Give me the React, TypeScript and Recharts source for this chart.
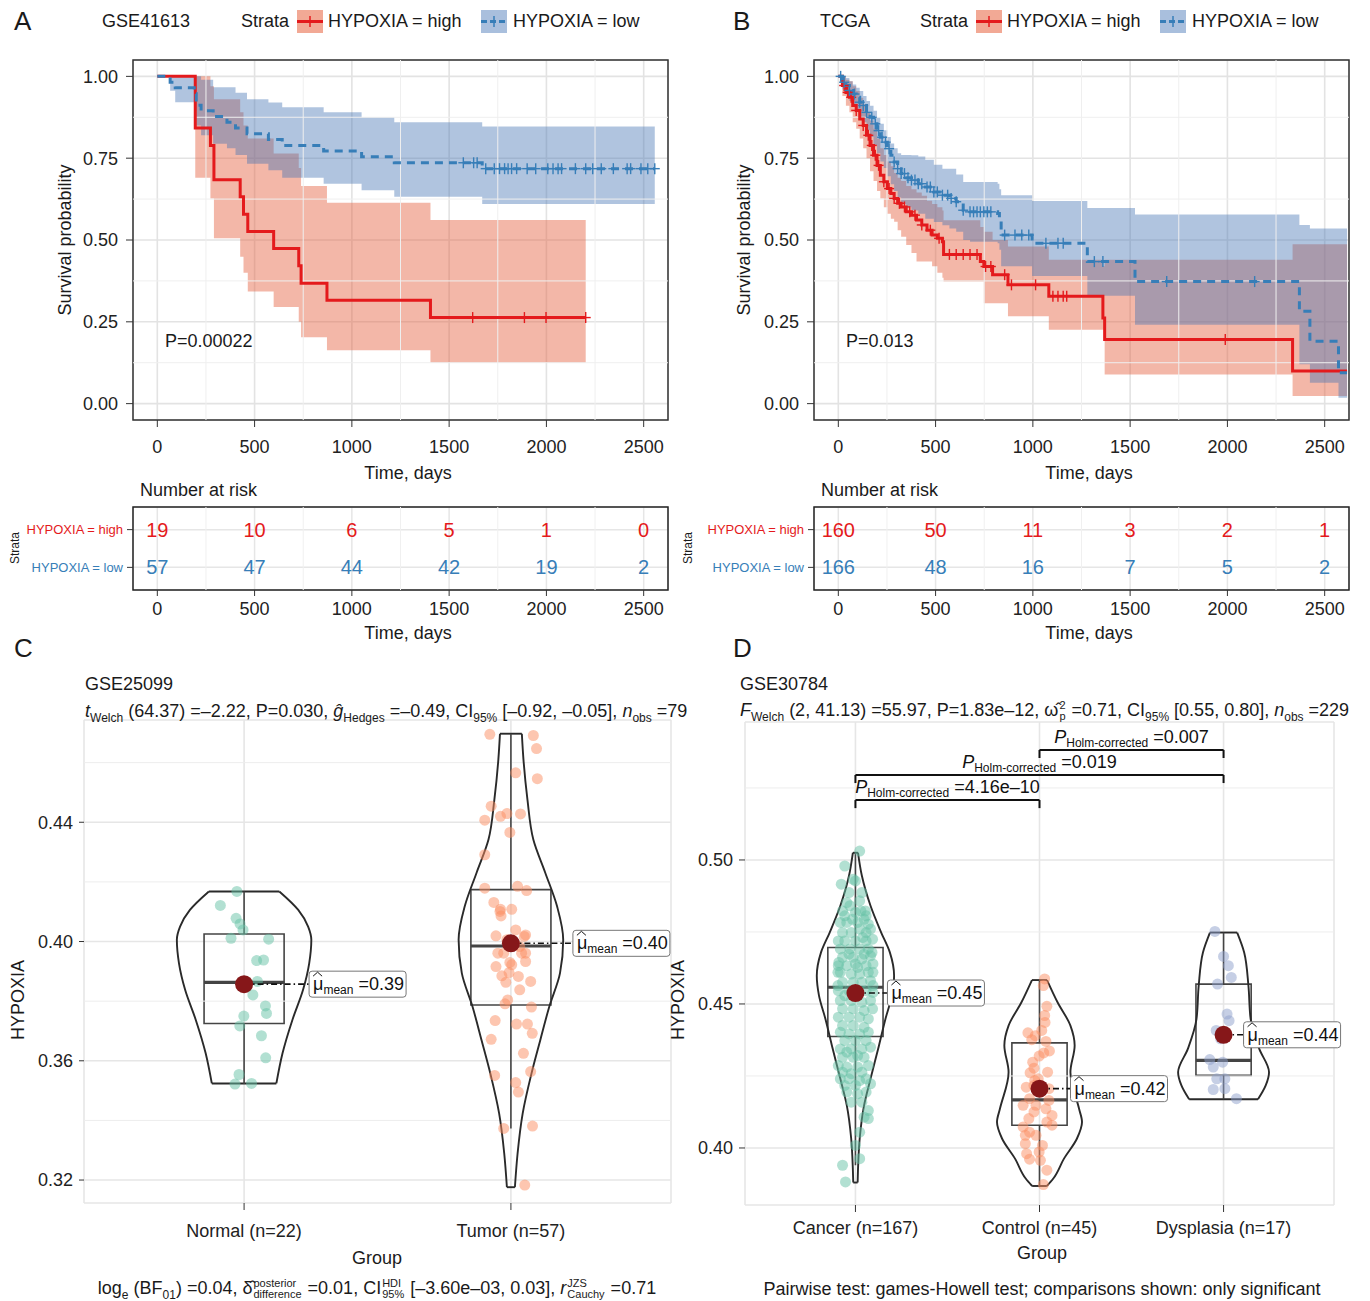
import React from 'react';
import {
  ComposedChart, Line, Area, Scatter, XAxis, YAxis, CartesianGrid,
  ReferenceLine, ReferenceArea, ReferenceDot,
} from 'recharts';

const FONT = '"Liberation Sans", Arial, Helvetica, sans-serif';
const RED = '#E41A1C';
const BLUE = '#377EB8';
const INK = '#1a1a1a';

// ---------- Kaplan-Meier, GSE41613 ----------
const gseHighTime = [0, 195, 273, 291, 426, 443, 465, 598, 727, 739, 872, 1404, 2202];
const gseHighSurv = [1, 0.842, 0.789, 0.684, 0.632, 0.579, 0.526, 0.474, 0.421, 0.368, 0.316, 0.263, 0.263];
const gseHighLower = [1, 0.69, 0.627, 0.505, 0.449, 0.4, 0.343, 0.295, 0.25, 0.203, 0.163, 0.125, 0.125];
const gseHighUpper = [1, 1, 0.97, 0.93, 0.89, 0.85, 0.81, 0.764, 0.72, 0.665, 0.614, 0.561, 0.561];
const gseHighCensor = [1621, 1887, 1998, 2202];

const gseLowTime = [0, 66, 92, 190, 200, 225, 287, 358, 402, 461, 571, 642, 855, 1050, 1218, 1670, 2557];
const gseLowSurv = [1, 0.982, 0.965, 0.947, 0.912, 0.895, 0.877, 0.86, 0.842, 0.825, 0.807, 0.789, 0.772, 0.754, 0.736, 0.718, 0.718];
const gseLowLower = [1, 0.956, 0.921, 0.895, 0.85, 0.82, 0.794, 0.78, 0.76, 0.733, 0.713, 0.69, 0.672, 0.652, 0.632, 0.61, 0.61];
const gseLowUpper = [1, 1, 1, 1, 1, 0.99, 0.967, 0.967, 0.95, 0.93, 0.92, 0.906, 0.89, 0.875, 0.86, 0.847, 0.847];
const gseLowCensor = [1573, 1626, 1644, 1688, 1732, 1759, 1785, 1803, 1821, 1847, 1901, 1945, 2007, 2034, 2060, 2078, 2149, 2202, 2238, 2282, 2344, 2415, 2433, 2486, 2521, 2557];

// ---------- Kaplan-Meier, TCGA ----------
const tcgaHighTime = [0, 21, 39, 57, 74, 92, 110, 128, 145, 163, 181, 199, 216, 234, 252, 270, 287, 305, 323, 349, 376, 402, 429, 456, 482, 509, 535, 541, 730, 748, 793, 872, 1082, 1360, 1369, 2335, 2615];
const tcgaHighSurv = [1, 0.972, 0.951, 0.936, 0.911, 0.896, 0.87, 0.85, 0.82, 0.789, 0.759, 0.728, 0.698, 0.678, 0.657, 0.642, 0.627, 0.612, 0.601, 0.586, 0.576, 0.561, 0.546, 0.53, 0.515, 0.505, 0.495, 0.456, 0.434, 0.419, 0.394, 0.363, 0.328, 0.262, 0.196, 0.1, 0.1];
const tcgaHighLower = [1, 0.94, 0.91, 0.89, 0.86, 0.84, 0.81, 0.78, 0.75, 0.71, 0.68, 0.65, 0.627, 0.6, 0.58, 0.565, 0.556, 0.53, 0.51, 0.485, 0.46, 0.434, 0.434, 0.434, 0.42, 0.4, 0.385, 0.373, 0.373, 0.307, 0.307, 0.267, 0.226, 0.226, 0.089, 0.023, 0.023];
const tcgaHighUpper = [1, 1, 0.99, 0.985, 0.97, 0.955, 0.935, 0.915, 0.89, 0.865, 0.84, 0.81, 0.78, 0.76, 0.74, 0.725, 0.705, 0.69, 0.68, 0.665, 0.655, 0.645, 0.635, 0.62, 0.61, 0.6, 0.59, 0.56, 0.54, 0.525, 0.5, 0.48, 0.44, 0.42, 0.44, 0.487, 0.487];
const tcgaHighCensor = [30, 48, 66, 92, 128, 154, 172, 190, 207, 234, 261, 287, 314, 340, 367, 394, 429, 473, 518, 571, 606, 642, 677, 713, 757, 784, 855, 890, 1014, 1103, 1129, 1156, 1174, 1989];

const tcgaLowTime = [0, 21, 39, 57, 74, 92, 110, 128, 145, 163, 181, 199, 216, 234, 252, 270, 287, 305, 323, 349, 376, 411, 447, 491, 535, 571, 606, 642, 677, 819, 828, 837, 996, 1280, 1525, 2370, 2424, 2571, 2615];
const tcgaLowSurv = [1, 0.982, 0.972, 0.957, 0.946, 0.936, 0.921, 0.911, 0.89, 0.875, 0.855, 0.834, 0.814, 0.799, 0.779, 0.759, 0.738, 0.718, 0.703, 0.69, 0.683, 0.672, 0.662, 0.647, 0.637, 0.627, 0.617, 0.591, 0.586, 0.581, 0.566, 0.515, 0.49, 0.434, 0.373, 0.282, 0.191, 0.094, 0.094];
const tcgaLowLower = [1, 0.96, 0.945, 0.925, 0.91, 0.895, 0.875, 0.86, 0.835, 0.815, 0.79, 0.765, 0.74, 0.72, 0.695, 0.67, 0.65, 0.63, 0.61, 0.6, 0.59, 0.58, 0.565, 0.555, 0.545, 0.535, 0.525, 0.5, 0.495, 0.49, 0.47, 0.42, 0.39, 0.33, 0.241, 0.12, 0.064, 0.018, 0.018];
const tcgaLowUpper = [1, 1, 0.995, 0.985, 0.975, 0.965, 0.955, 0.94, 0.925, 0.91, 0.895, 0.875, 0.855, 0.835, 0.815, 0.795, 0.78, 0.765, 0.76, 0.76, 0.759, 0.755, 0.745, 0.73, 0.718, 0.718, 0.7, 0.677, 0.677, 0.672, 0.655, 0.637, 0.619, 0.598, 0.578, 0.546, 0.535, 0.535, 0.535];
const tcgaLowCensor = [12, 30, 57, 83, 110, 128, 145, 172, 190, 207, 225, 243, 261, 287, 305, 323, 340, 358, 376, 394, 411, 429, 456, 473, 491, 509, 535, 562, 580, 606, 642, 677, 695, 713, 730, 748, 766, 784, 855, 908, 943, 979, 1067, 1129, 1156, 1316, 1360, 1688, 2140];

// ---------- number at risk ----------
const riskTimes = [0, 500, 1000, 1500, 2000, 2500];
const gseRiskHigh = [19, 10, 6, 5, 1, 0];
const gseRiskLow = [57, 47, 44, 42, 19, 2];
const tcgaRiskHigh = [160, 50, 11, 3, 2, 1];
const tcgaRiskLow = [166, 48, 16, 7, 5, 2];
const riskLabels = ['HYPOXIA = high', 'HYPOXIA = low'];

const kmTicks = [0, 500, 1000, 1500, 2000, 2500];
const kmMinorX = [250, 750, 1250, 1750, 2250];
const survTicks = [0, 0.25, 0.5, 0.75, 1];
const survMinor = [0.125, 0.375, 0.625, 0.875];

// ---------- GSE25099 violins ----------
const gseGroups = ['Normal (n=22)', 'Tumor (n=57)'];
const normalHypoxia = [0.4168, 0.4121, 0.4078, 0.4059, 0.4039, 0.4011, 0.4008, 0.3936, 0.3938, 0.3866, 0.3821, 0.3784, 0.3759, 0.375, 0.3717, 0.3684, 0.361, 0.3554, 0.3522, 0.3524, 0.3849, 0.386];
const normalJitter = [-0.027, -0.089, -0.03, -0.015, -0.004, -0.049, 0.092, 0.047, 0.073, 0.05, 0.033, 0.08, 0.084, -0.001, -0.016, 0.065, 0.081, -0.019, -0.034, 0.028, 0.01, -0.012];
const tumorHypoxia = [0.4695, 0.4691, 0.4647, 0.4566, 0.4546, 0.4454, 0.4407, 0.442, 0.4429, 0.4428, 0.4366, 0.4291, 0.4179, 0.4185, 0.4171, 0.4131, 0.4108, 0.4108, 0.4101, 0.4086, 0.4019, 0.4006, 0.4022, 0.4017, 0.3983, 0.3961, 0.3961, 0.3961, 0.393, 0.3922, 0.3933, 0.3896, 0.3885, 0.3883, 0.3866, 0.3863, 0.3838, 0.3791, 0.378, 0.3735, 0.3723, 0.3723, 0.3692, 0.3672, 0.3564, 0.3551, 0.3527, 0.3495, 0.3381, 0.3373, 0.3183, 0.3994, 0.3961, 0.4039, 0.3916, 0.3804, 0.3625];
const tumorJitter = [-0.079, 0.084, 0.096, 0.018, 0.099, -0.074, -0.098, -0.039, -0.015, 0.036, -0.004, -0.098, -0.098, 0.025, 0.059, -0.064, -0.039, 0.003, -0.041, -0.037, -0.056, -0.015, 0.055, 0.05, 0.033, 0.055, -0.049, 0.04, -0.004, 0.003, 0.055, -0.007, -0.034, 0.028, 0.074, -0.019, 0.033, -0.022, 0.077, -0.059, 0.021, 0.062, 0.08, -0.074, 0.074, -0.061, 0.018, 0.028, 0.081, -0.027, 0.052, 0.01, -0.027, 0.018, -0.056, -0.012, 0.047];
const normalViolinY = [0.3524, 0.3625, 0.3737, 0.3838, 0.3927, 0.4006, 0.405, 0.4106, 0.4168];
const normalViolinHalf = [0.121, 0.144, 0.181, 0.221, 0.244, 0.252, 0.24, 0.203, 0.132];
const tumorViolinY = [0.3176, 0.3289, 0.3423, 0.3557, 0.3669, 0.3782, 0.3894, 0.4006, 0.4118, 0.423, 0.4342, 0.4476, 0.4611, 0.4697];
const tumorViolinHalf = [0.015, 0.025, 0.044, 0.077, 0.11, 0.144, 0.184, 0.196, 0.173, 0.129, 0.084, 0.062, 0.047, 0.041];
// [lower whisker, Q1, median, Q3, upper whisker]
const normalBox = [0.3522, 0.3725, 0.3863, 0.4025, 0.4168];
const tumorBox = [0.3373, 0.3787, 0.3985, 0.4174, 0.4697];
const gseMeans = [0.3857, 0.3994];

// ---------- GSE30784 violins ----------
const tissueGroups = ['Cancer (n=167)', 'Control (n=45)', 'Dysplasia (n=17)'];
const cancerHypoxia = [0.5031, 0.4979, 0.4916, 0.4927, 0.4887, 0.4852, 0.4841, 0.4823, 0.4818, 0.4823, 0.4823, 0.4806, 0.4783, 0.4783, 0.4783, 0.4794, 0.4777, 0.4748, 0.4748, 0.476, 0.4748, 0.476, 0.4719, 0.4719, 0.4719, 0.4691, 0.4691, 0.4691, 0.4691, 0.4662, 0.4662, 0.4656, 0.4667, 0.4633, 0.4633, 0.4627, 0.4633, 0.4639, 0.461, 0.4604, 0.4604, 0.461, 0.4575, 0.4575, 0.4575, 0.4581, 0.4546, 0.4546, 0.4546, 0.454, 0.4512, 0.4512, 0.4506, 0.4512, 0.4483, 0.4483, 0.4477, 0.4483, 0.4454, 0.4454, 0.4454, 0.4448, 0.4425, 0.4425, 0.4419, 0.4402, 0.4396, 0.4396, 0.4402, 0.4373, 0.4373, 0.4373, 0.4344, 0.4344, 0.4344, 0.435, 0.4315, 0.4315, 0.4315, 0.4286, 0.4281, 0.4281, 0.4286, 0.4263, 0.4258, 0.4263, 0.424, 0.424, 0.4234, 0.424, 0.4217, 0.4217, 0.4223, 0.4194, 0.4188, 0.4194, 0.4159, 0.4159, 0.413, 0.4107, 0.4102, 0.4055, 0.4009, 0.3963, 0.394, 0.3882, 0.4933, 0.4887, 0.4858, 0.4794, 0.4806, 0.4731, 0.4673, 0.4639, 0.4673, 0.4529, 0.4529, 0.4564, 0.461, 0.461, 0.4564, 0.4644, 0.4679, 0.4719, 0.4725, 0.4321, 0.4333];
const cancerJitter = [0.023, -0.058, -0.077, 0, 0.035, -0.047, -0.03, -0.07, 0, 0.03, 0.054, 0.058, -0.082, -0.047, 0.012, 0.047, 0.07, -0.07, -0.023, 0.023, 0.058, 0.082, -0.058, 0, 0.058, -0.082, -0.03, 0.023, 0.07, -0.07, -0.012, 0.035, 0.082, -0.093, -0.047, 0.012, 0.058, 0.095, -0.082, -0.023, 0.023, 0.07, -0.07, -0.012, 0.035, 0.082, -0.093, -0.035, 0.058, 0.095, -0.082, -0.023, 0.035, 0.082, -0.07, -0.012, 0.047, 0.093, -0.093, -0.035, 0.023, 0.07, -0.07, -0.012, 0.047, -0.082, -0.035, 0.023, 0.07, -0.058, 0, 0.058, -0.082, -0.023, 0.035, 0.082, -0.07, -0.012, 0.047, -0.093, -0.047, 0.012, 0.07, -0.07, -0.023, 0.035, -0.082, -0.035, 0.023, 0.058, -0.058, 0, 0.082, -0.047, 0.012, 0.058, -0.023, 0.035, 0.07, 0.047, 0.07, 0.023, 0, 0.023, -0.07, -0.054, -0.012, -0.035, 0.023, -0.016, -0.058, 0.04, -0.035, 0, 0.047, -0.058, 0.012, 0.095, 0.095, -0.095, -0.095, -0.09, 0.09, -0.093, 0.093, 0.012, -0.047];
const controlHypoxia = [0.4587, 0.4564, 0.4492, 0.446, 0.4436, 0.4408, 0.44, 0.4376, 0.439, 0.437, 0.4337, 0.433, 0.4319, 0.4298, 0.4277, 0.4261, 0.424, 0.4263, 0.4234, 0.4211, 0.4206, 0.4171, 0.4165, 0.4148, 0.4136, 0.4125, 0.4113, 0.4102, 0.409, 0.4073, 0.4055, 0.4079, 0.4044, 0.4015, 0.4009, 0.398, 0.3961, 0.3957, 0.3923, 0.3873, 0.4217, 0.4194, 0.4148, 0.4044, 0.3986];
const controlJitter = [0.028, 0.021, 0.04, 0.028, 0.03, 0.012, -0.063, -0.042, -0.023, 0.035, 0.054, 0.023, -0.002, -0.037, -0.03, -0.051, -0.007, 0.044, -0.026, -0.072, 0.051, -0.054, 0.051, -0.089, 0.035, -0.03, 0.068, -0.058, 0.04, -0.089, -0.054, 0.068, -0.019, -0.077, 0.016, -0.07, -0.054, 0.005, 0.04, 0.021, -0.03, 0.005, -0.019, -0.077, -0.002];
const dysplasiaHypoxia = [0.4752, 0.4665, 0.4633, 0.4592, 0.4569, 0.4465, 0.4442, 0.4408, 0.4307, 0.4298, 0.4281, 0.424, 0.424, 0.4203, 0.4206, 0.4171, 0.4379];
const dysplasiaJitter = [-0.047, 0, 0.026, 0.042, -0.033, 0.019, 0.03, -0.04, -0.075, -0.005, -0.056, -0.037, 0.007, -0.056, 0.007, 0.07, -0.016];
const cancerViolinY = [0.388, 0.4032, 0.4148, 0.424, 0.4356, 0.4448, 0.4529, 0.4598, 0.4679, 0.4748, 0.4841, 0.4945, 0.5025];
const cancerViolinHalf = [0.012, 0.023, 0.047, 0.082, 0.128, 0.163, 0.198, 0.21, 0.187, 0.14, 0.082, 0.035, 0.014];
const controlViolinY = [0.3868, 0.3894, 0.3963, 0.4032, 0.409, 0.4136, 0.4263, 0.4356, 0.4425, 0.4506, 0.4583];
const controlViolinHalf = [0.04, 0.075, 0.133, 0.203, 0.231, 0.215, 0.168, 0.191, 0.168, 0.098, 0.041];
const dysplasiaViolinY = [0.4169, 0.4217, 0.4263, 0.4344, 0.4448, 0.4564, 0.4679, 0.4748];
const dysplasiaViolinHalf = [0.187, 0.229, 0.247, 0.194, 0.147, 0.135, 0.112, 0.074];
const cancerBox = [0.394, 0.4387, 0.4558, 0.4696, 0.5025];
const controlBox = [0.3868, 0.4079, 0.4167, 0.4365, 0.4583];
const dysplasiaBox = [0.4169, 0.4252, 0.4304, 0.4569, 0.4748];
const tissueMeans = [0.4538, 0.4206, 0.4393];

// pairwise Games-Howell brackets
const bracketPairs = [[1, 2], [1, 3], [2, 3]];
const bracketP = ['4.16e–10', '0.019', '0.007'];
const bracketLevels = [0.5208, 0.5295, 0.5382];

// ---------- helpers ----------
type Curve = { time: number[]; surv: number[]; lower: number[]; upper: number[] };

const kmRows = (c: Curve) => c.time.map((t, i) => ({ t, s: c.surv[i], ci: [c.lower[i], c.upper[i]] }));
const censorRows = (c: Curve, times: number[]) =>
  times.map((t) => {
    let s = c.surv[0];
    c.time.forEach((ct, i) => { if (ct <= t) s = c.surv[i]; });
    return { t, s };
  });

const plusShape = (color: string) => (p: any) => (
  <g>
    <line x1={p.cx - 5} x2={p.cx + 5} y1={p.cy} y2={p.cy} stroke={color} strokeWidth={1.4} />
    <line x1={p.cx} x2={p.cx} y1={p.cy - 5.5} y2={p.cy + 5.5} stroke={color} strokeWidth={1.4} />
  </g>
);
const noShape = () => <g />;

const Txt: React.FC<{ x: number; y: number; size?: number; anchor?: 'start' | 'middle'; color?: string; rotate?: boolean; children: React.ReactNode }> =
  ({ x, y, size = 18, anchor = 'start', color = INK, rotate, children }) => (
    <div style={{
      position: 'absolute', left: x, top: y, fontSize: size, color, whiteSpace: 'nowrap', lineHeight: 1.15,
      transform: rotate ? 'translate(-50%, -50%) rotate(-90deg)' : anchor === 'middle' ? 'translate(-50%, -50%)' : 'translateY(-50%)',
    }}>{children}</div>
  );

const Sub: React.FC<{ children: React.ReactNode }> = ({ children }) => (
  <span style={{ fontSize: 12, position: 'relative', top: 5 }}>{children}</span>
);
const Stack: React.FC<{ top: string; bottom: string }> = ({ top, bottom }) => (
  <span style={{ display: 'inline-flex', flexDirection: 'column', fontSize: 11, lineHeight: '11px', verticalAlign: 'middle', margin: '0 1px' }}>
    <span>{top}</span><span>{bottom}</span>
  </span>
);

const Swatch: React.FC<{ color: string; fill: string; dashed?: boolean }> = ({ color, fill, dashed }) => (
  <svg width={26} height={23} style={{ display: 'block' }}>
    <rect width={26} height={23} fill={fill} />
    <line x1={0} x2={26} y1={11.5} y2={11.5} stroke={color} strokeWidth={3} strokeDasharray={dashed ? '6 3' : undefined} />
    <line x1={13} x2={13} y1={6} y2={17} stroke={color} strokeWidth={1.5} />
  </svg>
);

const StrataLegend: React.FC<{ x: number }> = ({ x }) => (
  <>
    <Txt x={x} y={21}>Strata</Txt>
    <div style={{ position: 'absolute', left: x + 56, top: 10 }}><Swatch color={RED} fill="#F2A995" /></div>
    <Txt x={x + 87} y={21}>{riskLabels[0]}</Txt>
    <div style={{ position: 'absolute', left: x + 240, top: 10 }}><Swatch color={BLUE} fill="#A9BFDD" dashed /></div>
    <Txt x={x + 272} y={21}>{riskLabels[1]}</Txt>
  </>
);

const tickFont = { fontSize: 18, fill: '#222' };

function KMChart({ high, low, highCensor, lowCensor }: { high: Curve; low: Curve; highCensor: number[]; lowCensor: number[] }) {
  return (
    <ComposedChart width={680} height={480} margin={{ top: 60, right: 12, bottom: 0, left: 0 }}>
      <CartesianGrid stroke="#e3e3e3" strokeWidth={1.6} />
      {kmMinorX.map((v) => <ReferenceLine key={'mx' + v} x={v} stroke="#efefef" strokeWidth={1} />)}
      {survMinor.map((v) => <ReferenceLine key={'my' + v} y={v} stroke="#efefef" strokeWidth={1} />)}
      <XAxis type="number" dataKey="t" domain={[-125, 2625]} ticks={kmTicks} allowDataOverflow axisLine={false}
        tickSize={7} tickMargin={13} tick={tickFont} tickLine={{ stroke: '#333' }} height={60} />
      <YAxis type="number" domain={[-0.05, 1.05]} ticks={survTicks} allowDataOverflow axisLine={false} width={133}
        tickFormatter={(v: number) => v.toFixed(2)} tickSize={7} tickMargin={8} tick={tickFont} tickLine={{ stroke: '#333' }} />
      <Area data={kmRows(high)} dataKey="ci" type="stepAfter" stroke="none" fill="#E5603F" fillOpacity={0.45} isAnimationActive={false} />
      <Area data={kmRows(low)} dataKey="ci" type="stepAfter" stroke="none" fill="#4373B2" fillOpacity={0.42} isAnimationActive={false} />
      <Line data={kmRows(high)} dataKey="s" type="stepAfter" stroke={RED} strokeWidth={3} dot={false} isAnimationActive={false} />
      <Line data={kmRows(low)} dataKey="s" type="stepAfter" stroke={BLUE} strokeWidth={3} strokeDasharray="8 6" dot={false} isAnimationActive={false} />
      <Scatter data={censorRows(high, highCensor)} dataKey="s" shape={plusShape(RED)} isAnimationActive={false} />
      <Scatter data={censorRows(low, lowCensor)} dataKey="s" shape={plusShape(BLUE)} isAnimationActive={false} />
      <ReferenceArea x1={-125} x2={2625} y1={-0.05} y2={1.05} fill="none" fillOpacity={0} stroke="#333" strokeWidth={1.5} ifOverflow="visible" />
    </ComposedChart>
  );
}

const RiskTick = (p: any) => (
  <text x={p.x} y={p.y} textAnchor="end" dominantBaseline="central" fontSize={13} fill={p.payload.value === 2 ? RED : BLUE}>
    {p.payload.value === 2 ? riskLabels[0] : riskLabels[1]}
  </text>
);
const riskText = (color: string) => (p: any) => (
  <text x={p.cx} y={p.cy} textAnchor="middle" dominantBaseline="central" fontSize={20} fill={color}>{p.payload.n}</text>
);

function RiskTable({ high, low }: { high: number[]; low: number[] }) {
  const highRows = riskTimes.map((t, i) => ({ t, row: 2, n: high[i] }));
  const lowRows = riskTimes.map((t, i) => ({ t, row: 1, n: low[i] }));
  return (
    <ComposedChart width={680} height={170} margin={{ top: 27, right: 12, bottom: 0, left: 0 }}>
      <CartesianGrid stroke="#e6e6e6" strokeWidth={1.5} />
      {kmMinorX.map((v) => <ReferenceLine key={'rx' + v} x={v} stroke="#f0f0f0" strokeWidth={1} />)}
      <XAxis type="number" dataKey="t" domain={[-125, 2625]} ticks={riskTimes} allowDataOverflow axisLine={false}
        tickSize={6} tickMargin={6} tick={tickFont} tickLine={{ stroke: '#333' }} height={60} />
      <YAxis type="number" domain={[0.4, 2.6]} ticks={[1, 2]} allowDataOverflow axisLine={false} width={133}
        tickSize={6} tickMargin={4} tick={RiskTick} tickLine={{ stroke: '#333' }} />
      <Scatter data={highRows} dataKey="row" shape={riskText(RED)} isAnimationActive={false} />
      <Scatter data={lowRows} dataKey="row" shape={riskText(BLUE)} isAnimationActive={false} />
      <ReferenceArea x1={-125} x2={2625} y1={0.4} y2={2.6} fill="none" fillOpacity={0} stroke="#222" strokeWidth={1.5} ifOverflow="visible" />
    </ComposedChart>
  );
}

type Group = {
  values: number[]; jitter: number[]; vy: number[]; vhw: number[]; box: number[]; mean: number; color: string; labelDx: number;
};

const meanShape = (dx: number, text: string) => (p: any) => {
  const { cx, cy } = p;
  const bx = cx + dx;
  return (
    <g>
      <line x1={cx} x2={bx} y1={cy} y2={cy} stroke="#111" strokeWidth={1.6} strokeDasharray="6 3 1.5 3" />
      <circle cx={cx} cy={cy} r={9} fill="#861719" />
      <rect x={bx} y={cy - 13} width={97} height={26} rx={3} fill="#fff" stroke="#777" strokeWidth={1} />
      <path d={`M${bx + 4},${cy - 8} L${bx + 8.5},${cy - 12} L${bx + 13},${cy - 8}`} fill="none" stroke="#111" strokeWidth={1} />
      <text x={bx + 4} y={cy + 6} fontSize={18} fill="#111">
        μ<tspan fontSize={12} dy={4}>mean</tspan><tspan dy={-4}> ={text}</tspan>
      </text>
    </g>
  );
};

const dotShape = (color: string) => (p: any) => <circle cx={p.cx} cy={p.cy} r={5.5} fill={color} fillOpacity={0.5} />;

function ViolinChart({ groups, names, margin, yWidth, xHeight, yDomain, yTicks, yMinor, yDigits, yTickSize, xTickMargin, extra }: {
  groups: Group[]; names: string[]; margin: any; yWidth: number; xHeight: number; yDomain: number[]; yTicks: number[];
  yMinor: number[]; yDigits: number; yTickSize: number; xTickMargin: number; extra?: React.ReactNode[];
}) {
  const els: React.ReactNode[] = [];
  groups.forEach((g, gi) => {
    const pos = gi + 1;
    const right = g.vy.map((y, i) => ({ x: pos + g.vhw[i], y }));
    const left = g.vy.map((y, i) => ({ x: pos - g.vhw[i], y }));
    const n = g.vy.length - 1;
    const [lo, q1, med, q3, hi] = g.box;
    els.push(
      <Scatter key={'vr' + gi} data={right} dataKey="y" line={{ stroke: '#2a2a2a', strokeWidth: 1.9 }} lineType="joint" lineJointType="monotoneY" shape={noShape} isAnimationActive={false} />,
      <Scatter key={'vl' + gi} data={left} dataKey="y" line={{ stroke: '#2a2a2a', strokeWidth: 1.9 }} lineType="joint" lineJointType="monotoneY" shape={noShape} isAnimationActive={false} />,
      <ReferenceLine key={'vt' + gi} segment={[{ x: pos - g.vhw[n], y: g.vy[n] }, { x: pos + g.vhw[n], y: g.vy[n] }]} stroke="#2a2a2a" strokeWidth={1.9} />,
      <ReferenceLine key={'vb' + gi} segment={[{ x: pos - g.vhw[0], y: g.vy[0] }, { x: pos + g.vhw[0], y: g.vy[0] }]} stroke="#2a2a2a" strokeWidth={1.9} />,
      <ReferenceLine key={'wu' + gi} segment={[{ x: pos, y: q3 }, { x: pos, y: hi }]} stroke="#444" strokeWidth={1.6} />,
      <ReferenceLine key={'wl' + gi} segment={[{ x: pos, y: lo }, { x: pos, y: q1 }]} stroke="#444" strokeWidth={1.6} />,
      <ReferenceArea key={'bx' + gi} x1={pos - 0.15} x2={pos + 0.15} y1={q1} y2={q3} fill="none" fillOpacity={0} stroke="#444" strokeWidth={1.6} />,
      <ReferenceLine key={'md' + gi} segment={[{ x: pos - 0.15, y: med }, { x: pos + 0.15, y: med }]} stroke="#444" strokeWidth={3.2} />,
      <Scatter key={'pt' + gi} data={g.values.map((v, i) => ({ x: pos + g.jitter[i], y: v }))} dataKey="y" shape={dotShape(g.color)} isAnimationActive={false} />,
      <Scatter key={'mn' + gi} data={[{ x: pos, y: g.mean }]} dataKey="y" shape={meanShape(g.labelDx, g.mean.toFixed(2))} isAnimationActive={false} />,
    );
  });
  const xTicks = groups.map((_, i) => i + 1);
  return (
    <ComposedChart width={680} height={560} margin={margin}>
      <CartesianGrid stroke="#e6e6e6" strokeWidth={1.6} />
      {yMinor.map((v) => <ReferenceLine key={'ym' + v} y={v} stroke="#ededed" strokeWidth={1} />)}
      <XAxis type="number" dataKey="x" domain={[0.4, groups.length + 0.6]} ticks={xTicks} axisLine={false}
        tickFormatter={(v: number) => names[v - 1]} tickSize={7} tickMargin={xTickMargin} tick={tickFont} tickLine={{ stroke: '#333' }} height={xHeight} />
      <YAxis type="number" domain={yDomain} ticks={yTicks} axisLine={false} width={yWidth}
        tickFormatter={(v: number) => v.toFixed(yDigits)} tickSize={yTickSize} tickMargin={6} tick={tickFont} tickLine={{ stroke: '#333' }} />
      {els}
      {extra}
    </ComposedChart>
  );
}

const bracketLabel = (p: string) => (props: any) => (
  <text x={props.cx} y={props.cy - 7} textAnchor="middle" fontSize={18} fill="#111">
    <tspan fontStyle="italic">P</tspan><tspan fontSize={12} dy={4}>Holm-corrected</tspan><tspan dy={-4}> ={p}</tspan>
  </text>
);

export default function App() {
  const gseHigh: Curve = { time: gseHighTime, surv: gseHighSurv, lower: gseHighLower, upper: gseHighUpper };
  const gseLow: Curve = { time: gseLowTime, surv: gseLowSurv, lower: gseLowLower, upper: gseLowUpper };
  const tcgaHigh: Curve = { time: tcgaHighTime, surv: tcgaHighSurv, lower: tcgaHighLower, upper: tcgaHighUpper };
  const tcgaLow: Curve = { time: tcgaLowTime, surv: tcgaLowSurv, lower: tcgaLowLower, upper: tcgaLowUpper };

  const gseViolins: Group[] = [
    { values: normalHypoxia, jitter: normalJitter, vy: normalViolinY, vhw: normalViolinHalf, box: normalBox, mean: gseMeans[0], color: '#66C2A5', labelDx: 65 },
    { values: tumorHypoxia, jitter: tumorJitter, vy: tumorViolinY, vhw: tumorViolinHalf, box: tumorBox, mean: gseMeans[1], color: '#FC8D62', labelDx: 62 },
  ];
  const tissueViolins: Group[] = [
    { values: cancerHypoxia, jitter: cancerJitter, vy: cancerViolinY, vhw: cancerViolinHalf, box: cancerBox, mean: tissueMeans[0], color: '#66C2A5', labelDx: 32 },
    { values: controlHypoxia, jitter: controlJitter, vy: controlViolinY, vhw: controlViolinHalf, box: controlBox, mean: tissueMeans[1], color: '#FC8D62', labelDx: 31 },
    { values: dysplasiaHypoxia, jitter: dysplasiaJitter, vy: dysplasiaViolinY, vhw: dysplasiaViolinHalf, box: dysplasiaBox, mean: tissueMeans[2], color: '#8DA0CB', labelDx: 20 },
  ];

  const tick = 0.0028;
  const brackets: React.ReactNode[] = [];
  bracketPairs.forEach(([a, b], i) => {
    const y = bracketLevels[i];
    brackets.push(
      <ReferenceLine key={'bh' + i} segment={[{ x: a, y }, { x: b, y }]} stroke="#111" strokeWidth={2} />,
      <ReferenceLine key={'ba' + i} segment={[{ x: a, y }, { x: a, y: y - tick }]} stroke="#111" strokeWidth={2} />,
      <ReferenceLine key={'bb' + i} segment={[{ x: b, y }, { x: b, y: y - tick }]} stroke="#111" strokeWidth={2} />,
      <ReferenceDot key={'bt' + i} x={(a + b) / 2} y={y} r={0} shape={bracketLabel(bracketP[i])} ifOverflow="visible" />,
    );
  });

  return (
    <div style={{ position: 'absolute', left: 0, top: 0, width: 1370, height: 1301, background: '#fff', fontFamily: FONT, color: INK, overflow: 'hidden' }}>
      {/* charts */}
      <div style={{ position: 'absolute', left: 0, top: 0 }}>
        <KMChart high={gseHigh} low={gseLow} highCensor={gseHighCensor} lowCensor={gseLowCensor} />
      </div>
      <div style={{ position: 'absolute', left: 681, top: 0 }}>
        <KMChart high={tcgaHigh} low={tcgaLow} highCensor={tcgaHighCensor} lowCensor={tcgaLowCensor} />
      </div>
      <div style={{ position: 'absolute', left: 0, top: 480 }}>
        <RiskTable high={gseRiskHigh} low={gseRiskLow} />
      </div>
      <div style={{ position: 'absolute', left: 681, top: 480 }}>
        <RiskTable high={tcgaRiskHigh} low={tcgaRiskLow} />
      </div>
      <div style={{ position: 'absolute', left: 0, top: 700 }}>
        <ViolinChart groups={gseViolins} names={gseGroups} margin={{ top: 20, right: 9, bottom: 0, left: 0 }} yWidth={84} xHeight={57}
          yDomain={[0.3123, 0.4743]} yTicks={[0.32, 0.36, 0.4, 0.44]} yMinor={[0.34, 0.38, 0.42, 0.46]} yDigits={2} yTickSize={5} xTickMargin={14} />
      </div>
      <div style={{ position: 'absolute', left: 680, top: 700 }}>
        <ViolinChart groups={tissueViolins} names={tissueGroups} margin={{ top: 22, right: 26, bottom: 0, left: 0 }} yWidth={65} xHeight={55}
          yDomain={[0.3802, 0.5479]} yTicks={[0.4, 0.45, 0.5]} yMinor={[0.425, 0.475, 0.525]} yDigits={2} yTickSize={6} xTickMargin={9} extra={brackets} />
      </div>

      {/* panel A text */}
      <Txt x={14} y={22} size={26}>A</Txt>
      <Txt x={102} y={21}>GSE41613</Txt>
      <StrataLegend x={241} />
      <Txt x={65} y={240} rotate>Survival probability</Txt>
      <Txt x={408} y={473} anchor="middle">Time, days</Txt>
      <Txt x={165} y={341}>P=0.00022</Txt>
      <Txt x={140} y={490}>Number at risk</Txt>
      <Txt x={16} y={548} size={12} rotate>Strata</Txt>
      <Txt x={408} y={633} anchor="middle">Time, days</Txt>

      {/* panel B text */}
      <Txt x={733} y={22} size={26}>B</Txt>
      <Txt x={820} y={21}>TCGA</Txt>
      <StrataLegend x={920} />
      <Txt x={744} y={240} rotate>Survival probability</Txt>
      <Txt x={1089} y={473} anchor="middle">Time, days</Txt>
      <Txt x={846} y={341}>P=0.013</Txt>
      <Txt x={821} y={490}>Number at risk</Txt>
      <Txt x={689} y={548} size={12} rotate>Strata</Txt>
      <Txt x={1089} y={633} anchor="middle">Time, days</Txt>

      {/* panel C text */}
      <Txt x={14} y={649} size={26}>C</Txt>
      <Txt x={85} y={684}>GSE25099</Txt>
      <Txt x={85} y={711} size={18}>
        <i>t</i><Sub>Welch</Sub> (64.37) =–2.22, P=0.030, <i>ĝ</i><Sub>Hedges</Sub> =–0.49, CI<Sub>95%</Sub> [–0.92, –0.05], <i>n</i><Sub>obs</Sub> =79
      </Txt>
      <Txt x={18} y={1000} rotate>HYPOXIA</Txt>
      <Txt x={377} y={1258} anchor="middle">Group</Txt>
      <Txt x={377} y={1289} anchor="middle" size={18}>
        log<Sub>e</Sub> (BF<Sub>01</Sub>) =0.04, δ̂<Stack top="posterior" bottom="difference" /> =0.01, CI<Stack top="HDI" bottom="95%" /> [–3.60e–03, 0.03], <i>r</i><Stack top="JZS" bottom="Cauchy" /> =0.71
      </Txt>

      {/* panel D text */}
      <Txt x={733} y={649} size={26}>D</Txt>
      <Txt x={740} y={684}>GSE30784</Txt>
      <Txt x={740} y={711} size={18}>
        <i>F</i><Sub>Welch</Sub> (2, 41.13) =55.97, P=1.83e–12, ω̂<Stack top="2" bottom="p" /> =0.71, CI<Sub>95%</Sub> [0.55, 0.80], <i>n</i><Sub>obs</Sub> =229
      </Txt>
      <Txt x={678} y={1000} rotate>HYPOXIA</Txt>
      <Txt x={1042} y={1253} anchor="middle">Group</Txt>
      <Txt x={1042} y={1289} anchor="middle">Pairwise test: games-Howell test; comparisons shown: only significant</Txt>
    </div>
  );
}
